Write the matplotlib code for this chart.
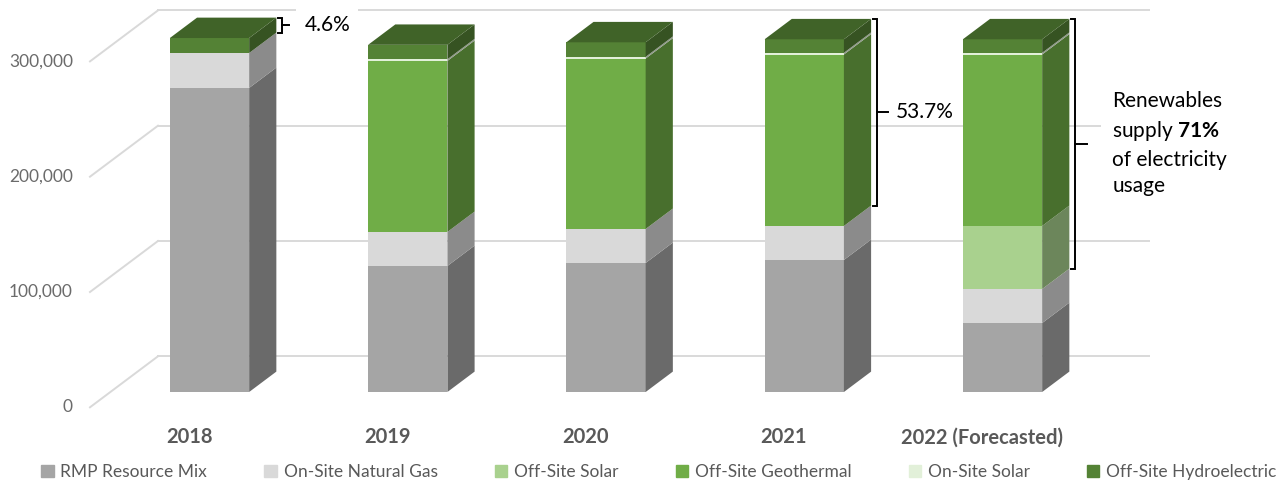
import numpy as np
import matplotlib
matplotlib.use("Agg")
import matplotlib.pyplot as plt
from matplotlib.patches import Polygon, Patch
from matplotlib.colors import to_rgb

# %% data ---------------------------------------------------------------------
years = ["2018", "2019", "2020", "2021", "2022 (Forecasted)"]
series = ["RMP Resource Mix", "On-Site Natural Gas", "Off-Site Solar",
          "Off-Site Geothermal", "On-Site Solar", "Off-Site Hydroelectric"]
rmp_mix     = [263700, 109300, 111900, 114500, 59800]
onsite_gas  = [30300, 29500, 29500, 29500, 29500]
offsite_sol = [0, 0, 0, 0, 54700]
geothermal  = [0, 148300, 147800, 148700, 148700]
onsite_sol  = [0, 1500, 1500, 1500, 1500]
hydro       = [13000, 12500, 12600, 11700, 11700]
yticks = [0, 100000, 200000, 300000]
ytick_labels = ["0", "100,000", "200,000", "300,000"]

colors = ["#a5a5a5", "#d9d9d9", "#a9d18e", "#70ad47", "#e2f0d9", "#548235"]

# %% fake-3D geometry -----------------------------------------------------------
PX_X = 198.25      # pixels per category
PX_Y = 1.153e-3    # pixels per unit of value
DX, DY = 68 / PX_X, 51 / PX_Y   # one unit of depth, in data units
BAR_W, BAR_D = 0.4, 0.4
FRONT, BACK = -0.3, 0.7         # depth of floor front edge and back wall

plt.rcParams["font.family"] = ["Lato", "DejaVu Sans"]
plt.rcParams["mathtext.fontset"] = "custom"
plt.rcParams["mathtext.rm"] = "Lato"
plt.rcParams["mathtext.bf"] = "Lato:bold"

fig = plt.figure(figsize=(12.88, 4.84), dpi=100)
ax = fig.add_axes([0, 0, 1, 1])
ax.set_xlim(-209.5 / PX_X, (1288 - 209.5) / PX_X)
ax.set_ylim(-(484 - 392) / PX_Y, 392 / PX_Y)
ax.axis("off")


def shift(x, y, d):
    return x + d * DX, y + d * DY


def shade(c, f):
    return tuple(v * f for v in to_rgb(c))


# gridlines on back wall + left wall
for v, lab in zip(yticks, ytick_labels):
    xa, ya = shift(-0.5, v, BACK)
    xb, yb = shift(4.5, v, BACK)
    ax.plot([xa, xb], [ya, yb], color="#d9d9d9", lw=1.4, zorder=0)
    xf, yf = shift(-0.5, v, FRONT)
    ax.plot([xf, xa], [yf, ya], color="#d9d9d9", lw=1.4, zorder=0)
    ax.annotate(lab, (xf, yf), xytext=(-17, 0), textcoords="offset pixels",
                ha="right", va="center", fontsize=12.5, color="#6b6b6b")

# stacked bars
data = np.array([rmp_mix, onsite_gas, offsite_sol, geothermal, onsite_sol, hydro])
tops = data.cumsum(axis=0)
x = np.arange(len(years))
for i in x:
    xl, xr = i - BAR_W / 2, i + BAR_W / 2
    last = max(k for k in range(len(series)) if data[k, i] > 0)
    for k in range(len(series)):
        h = data[k, i]
        if h <= 0:
            continue
        b, t = tops[k, i] - h, tops[k, i]
        ax.bar(i, h, bottom=b, width=BAR_W, color=colors[k], lw=0, zorder=2)
        side = [(xr, b), (xr, t), shift(xr, t, BAR_D), shift(xr, b, BAR_D)]
        ax.add_patch(Polygon(side, closed=True, fc=shade(colors[k], 0.64),
                             lw=0, zorder=2))
        if k == last:
            top = [(xl, t), (xr, t), shift(xr, t, BAR_D), shift(xl, t, BAR_D)]
            ax.add_patch(Polygon(top, closed=True, fc=shade(colors[k], 0.76),
                                 lw=0, zorder=2))
    xc, yc = shift(i, 0, FRONT)
    ax.annotate(years[i], (xc, yc), xytext=(0, -30), textcoords="offset pixels",
                ha="center", va="center", fontsize=14.5, fontweight="bold",
                color="#595959")


# brackets
def bracket(i, lo, hi, tick_px, gap_px, text, **kw):
    xb, _ = shift(i + BAR_W / 2, 0, BAR_D)
    xb += 6 / PX_X
    ylo, yhi = lo + BAR_D * DY, hi + BAR_D * DY
    serif = 4 / PX_X
    ax.plot([xb - serif, xb, xb, xb - serif], [yhi, yhi, ylo, ylo],
            color="black", lw=1.4, zorder=4, solid_joinstyle="miter")
    ym = (ylo + yhi) / 2
    ax.plot([xb, xb + tick_px / PX_X], [ym, ym], color="black", lw=1.4, zorder=4)
    ax.annotate(text, (xb + tick_px / PX_X, ym), xytext=(gap_px, 0),
                textcoords="offset pixels", ha="left", va="center",
                fontsize=15, color="black", zorder=3, **kw)


bracket(0, tops[4, 0], tops[5, 0], 7, 15, "4.6%",
        bbox=dict(fc="white", ec="none", pad=6))
bracket(3, tops[3, 3] - geothermal[3], tops[5, 3], 11, 8, "53.7%")
bracket(4, tops[2, 4] - offsite_sol[4], tops[5, 4], 12, 25,
        "Renewables\nsupply $\\mathbf{71\\%}$\nof electricity\nusage",
        linespacing=1.42, bbox=dict(fc="white", ec="none", pad=8))

handles = [Patch(color=c, label=s) for c, s in zip(colors, series)]
leg = fig.legend(handles=handles, loc="center",
                 bbox_to_anchor=(659 / 1288, 12 / 484),
                 ncol=6, frameon=False, fontsize=12.5, handlelength=0.7,
                 handleheight=0.7, handletextpad=0.4, columnspacing=3.3)
for t in leg.get_texts():
    t.set_color("#595959")

fig.savefig("out.png", dpi=100)
